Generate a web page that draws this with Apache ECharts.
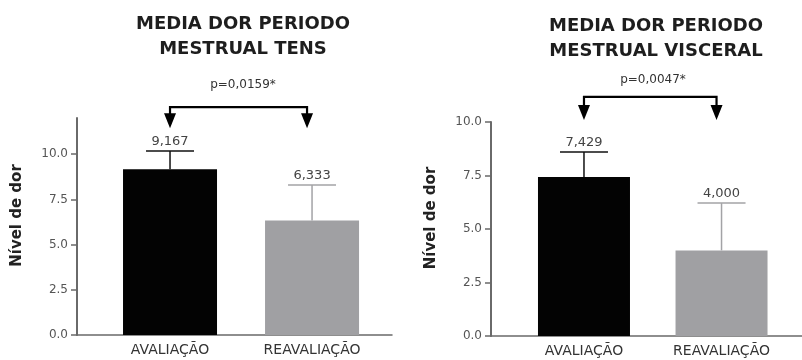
<!DOCTYPE html>
<html>
<head>
<meta charset="utf-8">
<script src="https://cdn.jsdelivr.net/npm/echarts@6/dist/echarts.min.js"></script>
<style>
  html, body { margin: 0; padding: 0; background: #fff; }
  #chart { width: 802px; height: 360px; }
</style>
</head>
<body>
<div id="chart"></div>
<script>
// Pain level before and after treatment, two protocols (mean + SD)
const categories = ['AVALIAÇÃO', 'REAVALIAÇÃO'];
const tensMeans = [9.167, 6.333];
const tensUpper = [10.18, 8.29];
const visceralMeans = [7.429, 4.000];
const visceralUpper = [8.60, 6.21];
const yTicks = [0, 2.5, 5, 7.5, 10];
const titles = ['MEDIA DOR PERIODO\nMESTRUAL TENS', 'MEDIA DOR PERIODO\nMESTRUAL VISCERAL'];
const pValues = ['p=0,0159*', 'p=0,0047*'];
const yName = 'Nível de dor';

const barColors = ['#030303', '#a0a0a3'];
const errColors = ['#111111', '#a3a3a6'];
const FONT = '"DejaVu Sans", Arial, sans-serif';

// significance bracket levels (axis units) for each panel
const bracketLevel = [12.6, 11.17];
const arrowTip = [11.44, 10.09];

function fmtComma(v) {
  return v.toFixed(3).replace('.', ',');
}

function barData(means) {
  return means.map((v, i) => ({ value: [i, v], itemStyle: { color: barColors[i] } }));
}

function errorData(means, upper) {
  return means.map((v, i) => [i, v, upper[i]]);
}

function renderError(params, api) {
  const i = api.value(0);
  const base = api.coord([i, api.value(1)]);
  const top = api.coord([i, api.value(2)]);
  const col = errColors[i];
  const half = 24;
  return {
    type: 'group',
    children: [
      { type: 'line', shape: { x1: base[0], y1: base[1], x2: top[0], y2: top[1] },
        style: { stroke: col, lineWidth: 1.5 } },
      { type: 'line', shape: { x1: top[0] - half, y1: top[1], x2: top[0] + half, y2: top[1] },
        style: { stroke: col, lineWidth: 1.5 } },
      { type: 'text', style: { text: fmtComma(api.value(1)), x: top[0], y: top[1] - 3,
        align: 'center', verticalAlign: 'bottom', fill: '#444', font: '13px ' + FONT } }
    ]
  };
}

function makeBracketRenderer(panel) {
  return function (params, api) {
    const a = api.coord([0, bracketLevel[panel]]);
    const b = api.coord([1, bracketLevel[panel]]);
    const tipA = api.coord([0, arrowTip[panel]]);
    const x0 = a[0], x1 = b[0] - 5;
    const yTop = a[1], yTip = tipA[1];
    const hw = 6, ah = 15;
    const arrow = (x) => ({
      type: 'polygon',
      shape: { points: [[x - hw, yTip - ah], [x + hw, yTip - ah], [x, yTip]] },
      style: { fill: '#000' }
    });
    return {
      type: 'group',
      children: [
        { type: 'polyline',
          shape: { points: [[x0, yTip - ah + 1], [x0, yTop], [x1, yTop], [x1, yTip - ah + 1]] },
          style: { stroke: '#000', lineWidth: 2.2, fill: null } },
        arrow(x0), arrow(x1)
      ]
    };
  };
}

const gridDefs = [
  { left: 77, width: 315, top: 118, bottom: 25, xMin: -0.655, xMax: 1.563, yMax: 12, barWidth: 94 },
  { left: 491, right: 0, top: 122, bottom: 24, xMin: -0.676, xMax: 1.585, yMax: 10, barWidth: 92 }
];

const chart = echarts.init(document.getElementById('chart'));

const option = {
  backgroundColor: '#fff',
  animation: false,
  title: [
    { text: titles[0], left: 238, top: 7, textAlign: 'center',
      textStyle: { fontFamily: FONT, fontSize: 18, fontWeight: 'bold', color: '#1e1e1e', lineHeight: 25 } },
    { text: titles[1], left: 651, top: 9, textAlign: 'center',
      textStyle: { fontFamily: FONT, fontSize: 18, fontWeight: 'bold', color: '#1e1e1e', lineHeight: 25 } },
    { text: pValues[0], left: 238, top: 74, textAlign: 'center',
      textStyle: { fontFamily: FONT, fontSize: 12, fontWeight: 'normal', color: '#333' } },
    { text: pValues[1], left: 648, top: 69, textAlign: 'center',
      textStyle: { fontFamily: FONT, fontSize: 12, fontWeight: 'normal', color: '#333' } }
  ],
  grid: gridDefs.map(g => {
    const o = { left: g.left, top: g.top, bottom: g.bottom };
    if (g.width !== undefined) o.width = g.width; else o.right = g.right;
    return o;
  }),
  xAxis: gridDefs.map((g, k) => ({
    type: 'value', gridIndex: k, min: g.xMin, max: g.xMax,
    splitLine: { show: false },
    axisLine: { show: true, onZero: false, lineStyle: { color: '#6a6a6a', width: 1.5 } },
    axisTick: { show: false },
    axisLabel: {
      customValues: [0, 1],
      formatter: v => categories[Math.round(v)],
      fontFamily: FONT, fontSize: 14, color: '#333', margin: 8
    }
  })),
  yAxis: gridDefs.map((g, k) => ({
    type: 'value', gridIndex: k, min: 0, max: g.yMax,
    name: yName, nameLocation: 'middle', nameGap: 52, nameRotate: 90,
    nameTextStyle: { fontFamily: FONT, fontSize: 15, fontWeight: 'bold', color: '#222', padding: [0, 0, 0, 22] },
    splitLine: { show: false },
    axisLine: { show: true, onZero: false, lineStyle: { color: '#6a6a6a', width: 2 } },
    axisTick: { show: true, inside: false, length: 6, customValues: yTicks, lineStyle: { color: '#6a6a6a', width: 1.5 } },
    axisLabel: {
      customValues: yTicks,
      formatter: v => v.toFixed(1),
      fontFamily: FONT, fontSize: 12, color: '#555', margin: 9
    }
  })),
  series: [
    { type: 'bar', xAxisIndex: 0, yAxisIndex: 0, barWidth: gridDefs[0].barWidth, data: barData(tensMeans) },
    { type: 'bar', xAxisIndex: 1, yAxisIndex: 1, barWidth: gridDefs[1].barWidth, data: barData(visceralMeans) },
    { type: 'custom', xAxisIndex: 0, yAxisIndex: 0, renderItem: renderError, data: errorData(tensMeans, tensUpper), z: 5 },
    { type: 'custom', xAxisIndex: 1, yAxisIndex: 1, renderItem: renderError, data: errorData(visceralMeans, visceralUpper), z: 5 },
    { type: 'custom', xAxisIndex: 0, yAxisIndex: 0, renderItem: makeBracketRenderer(0), data: [[0, 0]], clip: false },
    { type: 'custom', xAxisIndex: 1, yAxisIndex: 1, renderItem: makeBracketRenderer(1), data: [[0, 0]], clip: false }
  ]
};

chart.setOption(option);
</script>
</body>
</html>
